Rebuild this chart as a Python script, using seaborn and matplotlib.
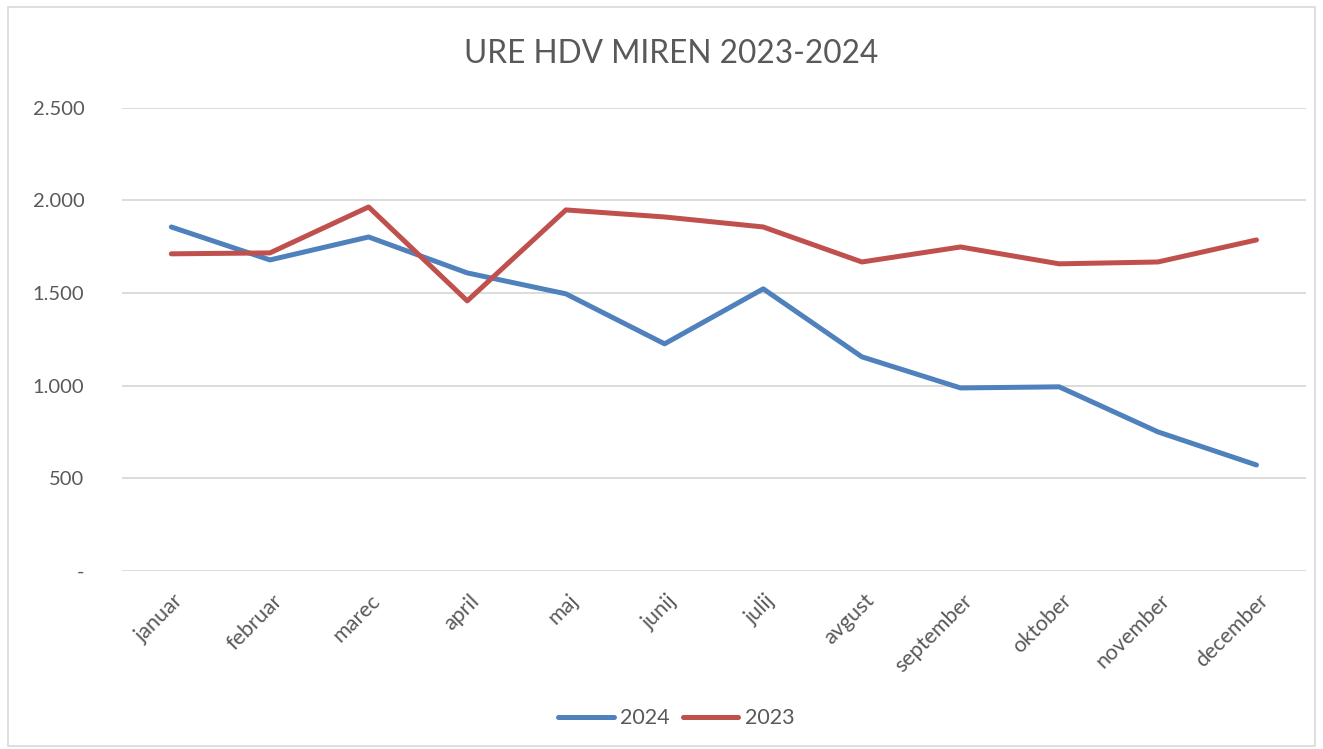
import matplotlib
matplotlib.use("Agg")
import matplotlib.pyplot as plt
import matplotlib.ticker as mticker
from matplotlib.patches import Rectangle
import seaborn as sns
import pandas as pd

months = ["januar", "februar", "marec", "april", "maj", "junij", "julij",
          "avgust", "september", "oktober", "november", "december"]
values_2024 = [1857, 1679, 1803, 1609, 1496, 1226, 1523, 1156, 988, 994, 751, 572]
values_2023 = [1712, 1717, 1965, 1458, 1949, 1911, 1857, 1668, 1749, 1658, 1668, 1787]
series_names = ["2024", "2023"]
colors = ["#4f81bd", "#c0504d"]

df = pd.DataFrame({
    "month": months * 2,
    "idx": list(range(len(months))) * 2,
    "value": values_2024 + values_2023,
    "year": [series_names[0]] * len(months) + [series_names[1]] * len(months),
})

sns.set_theme(style="white")
plt.rcParams["font.family"] = ["Lato", "DejaVu Sans"]

fig = plt.figure(figsize=(13.23, 7.49), dpi=100)
ax = fig.add_axes([0.0922, 0.2377, 0.8948, 0.6183])

sns.lineplot(data=df, x="idx", y="value", hue="year", hue_order=series_names,
             palette=colors, linewidth=3.6, ax=ax, sort=False)

ax.set_xlim(-0.5, len(months) - 0.5)
ax.set_ylim(0, 2500)
ax.yaxis.set_major_locator(mticker.MultipleLocator(500))

def fmt(v, pos):
    if abs(v) < 1e-9:
        return "-"
    return f"{int(v):,}".replace(",", ".")

ax.yaxis.set_major_formatter(mticker.FuncFormatter(fmt))
ax.set_xticks(range(len(months)))
ax.set_xticklabels(months, rotation=45, ha="right", rotation_mode="anchor")
ax.grid(axis="y", color="#d9d9d9", linewidth=1.3)
ax.set_axisbelow(True)
for s in ax.spines.values():
    s.set_visible(False)
ax.tick_params(axis="y", length=0, labelsize=14.5, colors="#595959", pad=27)
ax.tick_params(axis="x", length=0, labelsize=15.5, colors="#595959", pad=14)
for lab in ax.get_xticklabels():
    lab.set_transform(lab.get_transform() + matplotlib.transforms.ScaledTranslation(0.02, 0, fig.dpi_scale_trans))
ax.set_xlabel("")
ax.set_ylabel("")

fig.text(0.5076, 0.928, "URE HDV MIREN 2023-2024", ha="center", va="center",
         fontsize=22.8, color="#595959")

handles, labels = ax.get_legend_handles_labels()
for h in handles:
    h.set_solid_capstyle("round")
ax.legend(handles, labels, loc="center", bbox_to_anchor=(0.511, 0.041),
          bbox_transform=fig.transFigure, ncol=2, frameon=False,
          fontsize=15.5, labelcolor="#595959", handlelength=2.6,
          columnspacing=0.6, handletextpad=0.3)

fig.patches.append(Rectangle((0.006, 0.004), 0.988, 0.986, transform=fig.transFigure,
                             fill=False, edgecolor="#d9d9d9", linewidth=1.2))

fig.savefig("out.png", dpi=100, facecolor="white")
